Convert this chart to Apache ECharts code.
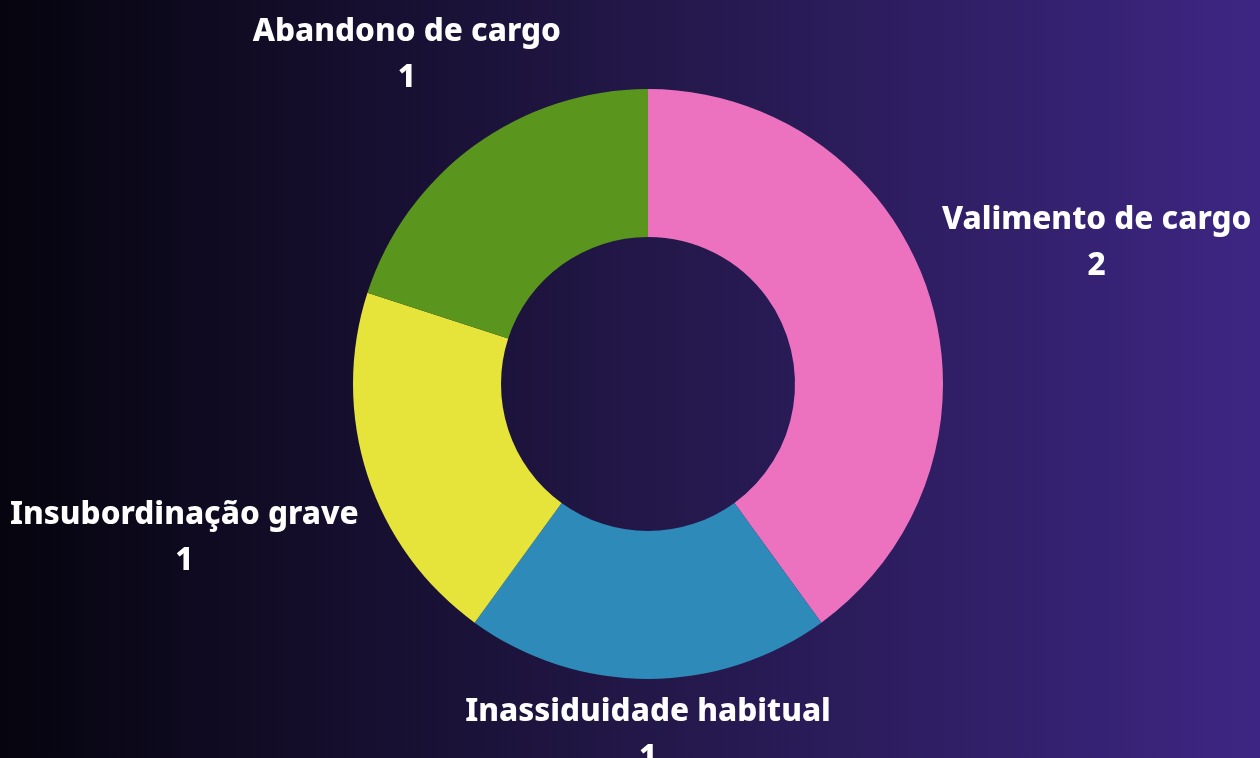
<!DOCTYPE html>
<html>
<head>
<meta charset="utf-8">
<style>
  html, body { margin: 0; padding: 0; }
  #chart { width: 1260px; height: 758px; }
</style>
<script src="https://cdn.jsdelivr.net/npm/echarts@6/dist/echarts.min.js"></script>
</head>
<body>
<div id="chart"></div>
<script>
var categories = ['Valimento de cargo', 'Inassiduidade habitual', 'Insubordinação grave', 'Abandono de cargo'];
var values = [2, 1, 1, 1];
var colors = ['#ec72c0', '#2e8bb9', '#e6e33a', '#5a961e'];
// how far each label sits beyond the ring, and its sideways nudge
var labelReach = [161, 56, 203, 112];
var labelSide = [10, -5, -15, -3];

var chartDom = document.getElementById('chart');
var myChart = echarts.init(chartDom);
var option;

option = {
  animation: false,
  backgroundColor: new echarts.graphic.LinearGradient(0, 0, 1, 0, [
    { offset: 0, color: '#06040e' },
    { offset: 0.5, color: '#221747' },
    { offset: 1, color: '#3d2683' }
  ]),
  series: [
    {
      type: 'pie',
      center: [648, 384],
      radius: [147, 295],
      startAngle: 90,
      clockwise: true,
      avoidLabelOverlap: false,
      label: {
        show: true,
        position: 'outside',
        formatter: '{b}\n{c}',
        color: '#ffffff',
        fontFamily: 'Noto Sans',
        fontWeight: 800,
        fontSize: 31.5,
        lineHeight: 46
      },
      labelLine: { show: false },
      labelLayout: function () {
        return { align: 'center', verticalAlign: 'middle' };
      },
      emphasis: { disabled: true },
      data: categories.map(function (name, i) {
        return {
          name: name,
          value: values[i],
          itemStyle: { color: colors[i] },
          labelLine: { show: false, length: labelReach[i], length2: labelSide[i] }
        };
      })
    }
  ]
};

option && myChart.setOption(option);
</script>
</body>
</html>
